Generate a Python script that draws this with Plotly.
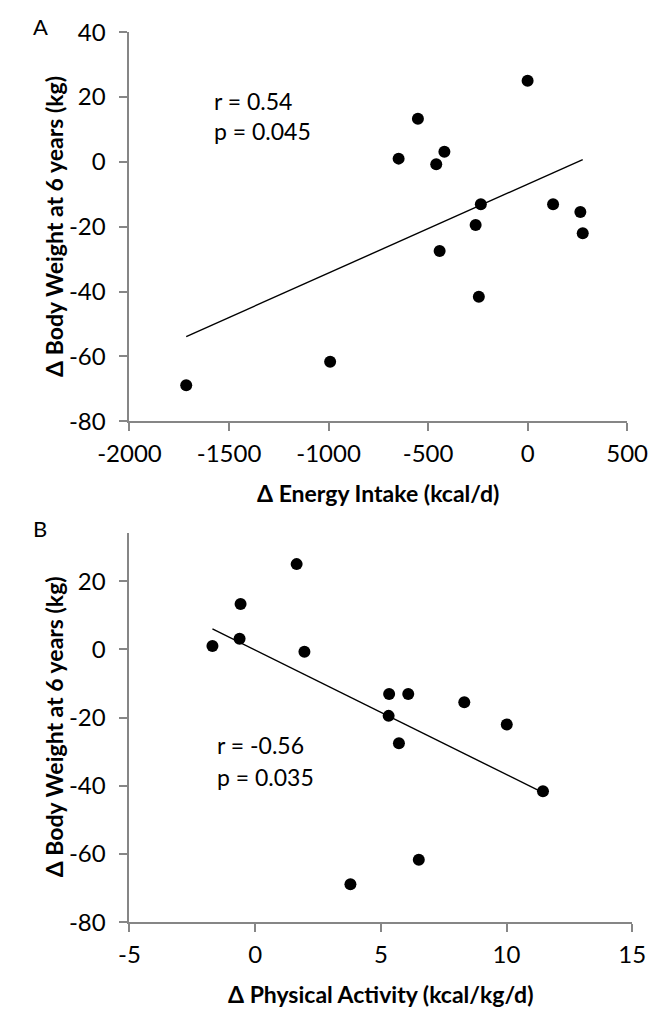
import plotly.graph_objects as go

# Data
energy_intake = [-648, -551, -459, -418, 0, -235, 128, -261, 265, 277, -442, -245, -992, -1715]
physical_activity = [-1.70, -0.58, 1.96, -0.62, 1.65, 5.33, 6.09, 5.31, 8.32, 10.01, 5.72, 11.45, 6.51, 3.79]
body_weight = [1.0, 13.3, -0.7, 3.1, 25.0, -13.1, -13.1, -19.5, -15.5, -22.0, -27.5, -41.6, -61.7, -68.9]

trend_a_x = [-1715, 277]
trend_a_y = [-53.9, 0.7]
trend_b_x = [-1.70, 11.45]
trend_b_y = [6.0, -42.0]

y_ticks_a = [-80, -60, -40, -20, 0, 20, 40]
y_ticks_b = [-80, -60, -40, -20, 0, 20]
x_ticks_a = [-2000, -1500, -1000, -500, 0, 500]
x_ticks_b = [-5, 0, 5, 10, 15]

W, H = 667, 1020
FONT = "Lato"
AX = "#868686"


def px(x):
    return x / W


def py(y):
    return 1 - y / H


def labels(vals):
    return [str(v) for v in vals]  # plain hyphen minus, like the reference


fig = go.Figure()
fig.add_trace(go.Scatter(x=energy_intake, y=body_weight, mode="markers",
                         marker=dict(color="black", size=12), xaxis="x", yaxis="y",
                         showlegend=False))
fig.add_trace(go.Scatter(x=trend_a_x, y=trend_a_y, mode="lines",
                         line=dict(color="black", width=1.4), xaxis="x", yaxis="y",
                         showlegend=False))
fig.add_trace(go.Scatter(x=physical_activity, y=body_weight, mode="markers",
                         marker=dict(color="black", size=12), xaxis="x2", yaxis="y2",
                         showlegend=False))
fig.add_trace(go.Scatter(x=trend_b_x, y=trend_b_y, mode="lines",
                         line=dict(color="black", width=1.4), xaxis="x2", yaxis="y2",
                         showlegend=False))

common = dict(showgrid=False, zeroline=False, showline=True, linecolor=AX, linewidth=2,
              ticks="outside", tickcolor=AX, tickwidth=2, ticklen=8,
              tickfont=dict(family=FONT, size=24, color="black"))
xcommon = dict(ticklabelstandoff=2, **common)
ycommon = dict(ticklabelstandoff=9, **common)

fig.update_layout(
    width=W, height=H,
    margin=dict(l=0, r=0, t=0, b=0),
    paper_bgcolor="white", plot_bgcolor="white",
    xaxis=dict(domain=[px(105.9), px(646.5)], range=[-2000, 500], tickvals=x_ticks_a,
               ticktext=labels(x_ticks_a), anchor="y", **xcommon),
    yaxis=dict(domain=[py(417), py(16.7)], range=[-80, 40], tickvals=y_ticks_a,
               ticktext=labels(y_ticks_a), anchor="x", **ycommon),
    xaxis2=dict(domain=[px(105.9), px(652)], range=[-5, 15], tickvals=x_ticks_b,
                ticktext=labels(x_ticks_b), anchor="y2", **xcommon),
    yaxis2=dict(domain=[py(932.7), py(531.7)], range=[-80, 34.25], tickvals=y_ticks_b,
                ticktext=labels(y_ticks_b), anchor="x2", **ycommon),
)

title_font = dict(family=FONT, size=23, color="black", weight="bold")
titles = [
    ("Δ Energy Intake (kcal/d)", 376, 491, 0),
    ("Δ Body Weight at 6 years (kg)", 24, 217, -90),
    ("Δ Physical Activity (kcal/kg/d)", 379, 1007, 0),
    ("Δ Body Weight at 6 years (kg)", 24, 732, -90),
]
for text, x, y, ang in titles:
    fig.add_annotation(text=text, x=px(x), y=py(y), xref="paper", yref="paper",
                       xanchor="center", yanchor="middle", showarrow=False,
                       textangle=ang, font=title_font)

annots = [
    ("A", 0, 11, 22),
    ("B", 0, 527, 22),
    ("r = 0.54", 197, 87, 23),
    ("p = 0.045", 197, 118, 23),
    ("r = -0.56", 200, 750, 23),
    ("p = 0.035", 200, 783, 23),
]
for text, x, y, s in annots:
    fig.add_annotation(text=text, x=px(x), y=py(y), xref="paper", yref="paper",
                       xanchor="left", yanchor="middle", showarrow=False,
                       borderpad=0, font=dict(family=FONT, size=s, color="black"))

fig.write_html("out.html", config={"displayModeBar": False},
               post_script="document.body.style.margin='0px';")
